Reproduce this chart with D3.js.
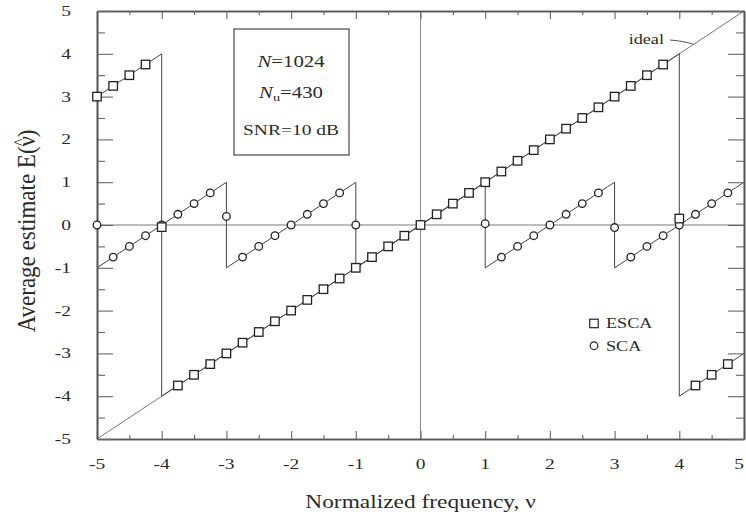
<!DOCTYPE html>
<html>
<head>
<meta charset="utf-8">
<script src="https://cdn.jsdelivr.net/npm/d3@7/dist/d3.min.js"></script>
<style>
  html, body { margin: 0; padding: 0; background: #fff; }
  svg { display: block; }
  text { font-family: "Liberation Serif", "DejaVu Serif", serif; fill: #2a2a2a; }
</style>
</head>
<body>
<svg id="chart" width="746" height="518"></svg>
<script>
// Tick values
const xTicks = [-5, -4, -3, -2, -1, 0, 1, 2, 3, 4, 5];
const yTicks = [-5, -4, -3, -2, -1, 0, 1, 2, 3, 4, 5];

// Theoretical curves (breakpoints)
const idealNu = [-5, 5];
const idealE  = [-5, 5];
const escaLineNu = [-5, -4, -4, 4, 4, 5];
const escaLineE  = [3, 4, -4, 4, -4, -3];
const scaLineNu  = [-5, -3, -3, -1, -1, 1, 1, 3, 3, 5];
const scaLineE   = [-1, 1, -1, 1, -1, 1, -1, 1, -1, 1];

// ESCA simulation points
const escaNu = [-5, -4.75, -4.5, -4.25, -4,
  -3.75, -3.5, -3.25, -3, -2.75, -2.5, -2.25, -2, -1.75, -1.5, -1.25, -1,
  -0.75, -0.5, -0.25, 0, 0.25, 0.5, 0.75, 1, 1.25, 1.5, 1.75, 2,
  2.25, 2.5, 2.75, 3, 3.25, 3.5, 3.75, 4, 4.25, 4.5, 4.75];
const escaE = [3.0, 3.25, 3.5, 3.75, -0.05,
  -3.75, -3.5, -3.25, -3, -2.75, -2.5, -2.25, -2, -1.75, -1.5, -1.25, -1,
  -0.75, -0.5, -0.25, 0, 0.25, 0.5, 0.75, 1, 1.25, 1.5, 1.75, 2,
  2.25, 2.5, 2.75, 3, 3.25, 3.5, 3.75, 0.15, -3.75, -3.5, -3.25];

// SCA simulation points
const scaNu = [-5, -4.75, -4.5, -4.25, -4, -3.75, -3.5, -3.25,
  -3, -2.75, -2.5, -2.25, -2, -1.75, -1.5, -1.25, -1,
  1, 1.25, 1.5, 1.75, 2, 2.25, 2.5, 2.75,
  3, 3.25, 3.5, 3.75, 4, 4.25, 4.5, 4.75];
const scaE = [0, -0.75, -0.5, -0.25, 0, 0.25, 0.5, 0.75,
  0.2, -0.75, -0.5, -0.25, 0, 0.25, 0.5, 0.75, 0,
  0.03, -0.75, -0.5, -0.25, 0, 0.25, 0.5, 0.75,
  -0.06, -0.75, -0.5, -0.25, 0, 0.25, 0.5, 0.75];

const infoLines = ["N=1024", "Nu=430", "SNR=10 dB"];
const seriesNames = ["ESCA", "SCA"];

const svg = d3.select("#chart");
const x = d3.scaleLinear().domain([-5, 5]).range([97, 744]);
const y = d3.scaleLinear().domain([-5, 5]).range([439, 11]);
const SX = 1.3; // horizontal stretch of the lettering

const lineCol = "#444";
const zip = (a, b) => a.map((v, i) => [v, b[i]]);
const line = d3.line().x(d => x(d[0])).y(d => y(d[1]));

// zero reference lines
svg.append("line").attr("x1", x(-5)).attr("x2", x(5)).attr("y1", y(0)).attr("y2", y(0))
  .attr("stroke", "#7a7a7a").attr("stroke-width", 1.2);
svg.append("line").attr("x1", x(0)).attr("x2", x(0)).attr("y1", y(5)).attr("y2", y(-5))
  .attr("stroke", "#8a8a8a").attr("stroke-width", 1);

// curves
svg.append("path").attr("d", line(zip(idealNu, idealE))).attr("fill", "none")
  .attr("stroke", "#666").attr("stroke-width", 0.9);
svg.append("path").attr("d", line(zip(escaLineNu, escaLineE))).attr("fill", "none")
  .attr("stroke", lineCol).attr("stroke-width", 1);
svg.append("path").attr("d", line(zip(scaLineNu, scaLineE))).attr("fill", "none")
  .attr("stroke", lineCol).attr("stroke-width", 1);

// axes frame with inward major and minor ticks
const minorVals = d3.range(-4.5, 5, 1);
function drawAxis(axisFn, scale, transform, major, minor) {
  const gMaj = svg.append("g").attr("transform", transform)
    .call(axisFn(scale).tickValues(xTicks).tickSize(major).tickFormat("").tickSizeOuter(0));
  const gMin = svg.append("g").attr("transform", transform)
    .call(axisFn(scale).tickValues(minorVals).tickSize(minor).tickFormat("").tickSizeOuter(0));
  [gMaj, gMin].forEach(g => {
    g.selectAll("path").attr("stroke", "#555").attr("stroke-width", 1.6);
    g.selectAll("line").attr("stroke", "#666").attr("stroke-width", 1.1);
  });
}
drawAxis(d3.axisTop, x, `translate(0,${y(-5)})`, 8, 4);
drawAxis(d3.axisBottom, x, `translate(0,${y(5)})`, 8, 4);
drawAxis(d3.axisRight, y, `translate(${x(-5)},0)`, 16, 8);
drawAxis(d3.axisLeft, y, `translate(${x(5)},0)`, 16, 8);

// tick labels
svg.append("g").selectAll("text").data(xTicks).join("text")
  .attr("transform", d => `translate(${Math.min(x(d), 739)},${y(-5) + 30}) scale(${SX},1)`)
  .attr("text-anchor", "middle").attr("font-size", 15).text(d => d);
svg.append("g").selectAll("text").data(yTicks).join("text")
  .attr("transform", d => `translate(71,${y(d) + 5}) scale(${SX},1)`)
  .attr("text-anchor", "end").attr("font-size", 15).text(d => d);

// axis titles
svg.append("text")
  .attr("transform", `translate(${x(0)},508) scale(${SX},1)`)
  .attr("text-anchor", "middle").attr("font-size", 18)
  .text("Normalized frequency, ν");
const yt = svg.append("text")
  .attr("transform", `translate(35,${y(0) + 6}) scale(1.1,1) rotate(-90)`)
  .attr("text-anchor", "middle").attr("font-size", 23);
yt.append("tspan").text("Average estimate  E(");
yt.append("tspan").text("ν");
yt.append("tspan").attr("font-size", 16).attr("dx", "-0.62em").attr("dy", "-0.55em").text("^");
yt.append("tspan").attr("dy", "0.4em").attr("dx", "0.05em").text(")");

// markers: circles (SCA) then squares (ESCA)
svg.append("g").selectAll("circle").data(zip(scaNu, scaE)).join("circle")
  .attr("cx", d => x(d[0])).attr("cy", d => y(d[1])).attr("r", 3.8)
  .attr("fill", "#fff").attr("stroke", "#222").attr("stroke-width", 1.3);
const sq = 8.5;
svg.append("g").selectAll("rect").data(zip(escaNu, escaE)).join("rect")
  .attr("x", d => x(d[0]) - sq / 2).attr("y", d => y(d[1]) - sq / 2)
  .attr("width", sq).attr("height", sq)
  .attr("fill", "#fff").attr("stroke", "#222").attr("stroke-width", 1.3);

// parameter box
svg.append("rect").attr("x", 234).attr("y", 29).attr("width", 115).attr("height", 126)
  .attr("fill", "none").attr("stroke", "#555").attr("stroke-width", 1.3);
const boxY = [67, 98, 135];
const t0 = svg.append("text").attr("transform", `translate(291,${boxY[0]}) scale(${SX},1)`)
  .attr("text-anchor", "middle").attr("font-size", 16);
t0.append("tspan").attr("font-style", "italic").text("N");
t0.append("tspan").text("=1024");
const t1 = svg.append("text").attr("transform", `translate(291,${boxY[1]}) scale(${SX},1)`)
  .attr("text-anchor", "middle").attr("font-size", 16);
t1.append("tspan").attr("font-style", "italic").text("N");
t1.append("tspan").attr("font-size", 11).attr("dy", 3).text("u");
t1.append("tspan").attr("dy", -3).text("=430");
svg.append("text").attr("transform", `translate(291,${boxY[2]}) scale(${SX},1)`)
  .attr("text-anchor", "middle").attr("font-size", 15).text(infoLines[2]);

// "ideal" annotation
svg.append("text").attr("transform", `translate(664,${44}) scale(${SX},1)`)
  .attr("text-anchor", "end").attr("font-size", 14).text("ideal");
svg.append("path")
  .attr("d", `M670,40 Q684,41 ${x(4.22)},${y(4.22)}`)
  .attr("fill", "none").attr("stroke", "#555").attr("stroke-width", 1);

// legend
const legY = [y(-2.3), y(-2.82)];
svg.append("rect").attr("x", 594 - sq / 2).attr("y", legY[0] - sq / 2)
  .attr("width", sq).attr("height", sq).attr("fill", "#fff")
  .attr("stroke", "#222").attr("stroke-width", 1.2);
svg.append("circle").attr("cx", 594).attr("cy", legY[1]).attr("r", 3.8)
  .attr("fill", "#fff").attr("stroke", "#222").attr("stroke-width", 1.2);
seriesNames.forEach((s, i) => {
  svg.append("text").attr("transform", `translate(606,${legY[i] + 5}) scale(${SX},1)`)
    .attr("font-size", 14).text(s);
});
</script>
</body>
</html>
